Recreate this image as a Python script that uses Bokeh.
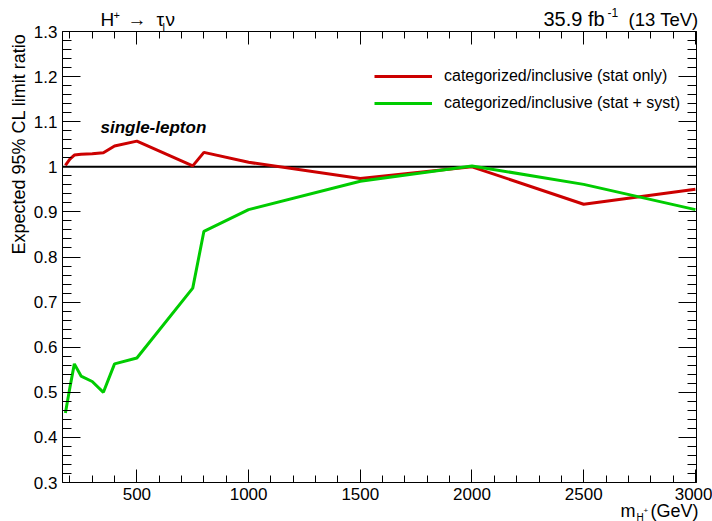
from bokeh.plotting import figure
from bokeh.models import Range1d, FixedTicker, LinearAxis, Label, Legend, LegendItem
from bokeh.embed import file_html
from bokeh.resources import INLINE

# ---- data ----
masses = [180, 200, 220, 250, 300, 350, 400, 500, 750, 800, 1000, 1500, 2000, 2500, 3000]
ratio_stat_only = [1.003, 1.017, 1.026, 1.028, 1.029, 1.031, 1.046, 1.057, 1.002, 1.032,
                   1.010, 0.974, 1.000, 0.917, 0.950]
ratio_stat_syst = [0.454, 0.510, 0.563, 0.536, 0.524, 0.500, 0.563, 0.576, 0.731, 0.857,
                   0.905, 0.968, 1.002, 0.961, 0.905]
series_labels = ["categorized/inclusive (stat only)", "categorized/inclusive (stat + syst)"]
series_colors = ["#CC0000", "#00CC00"]

x_ticks = [500, 1000, 1500, 2000, 2500, 3000]
x_tick_labels = ["500", "1000", "1500", "2000", "2500", "3000"]
x_minor = list(range(200, 3001, 100))
y_ticks = [0.3, 0.4, 0.5, 0.6, 0.7, 0.8, 0.9, 1.0, 1.1, 1.2, 1.3]
y_tick_labels = ["0.3", "0.4", "0.5", "0.6", "0.7", "0.8", "0.9", "1", "1.1", "1.2", "1.3"]
y_minor = [round(0.3 + 0.02 * i, 2) for i in range(51)]
reference_level = 1.0

# axis box limits (data units) and where that box sits on the canvas (pixels)
X_LO, X_HI = 167.0, 3005.0
Y_LO, Y_HI = 0.3, 1.3
W, H = 712, 521
BOX_L, BOX_R, BOX_T, BOX_B = 62, 696, 31, 482

FONT = "Liberation Sans"

# full-canvas frame; ranges chosen so that the axis box lands at BOX_* pixels
xs = (X_HI - X_LO) / (BOX_R - BOX_L)
ys = (Y_HI - Y_LO) / (BOX_B - BOX_T)
x_range = Range1d(X_LO - BOX_L * xs, X_HI + (W - BOX_R) * xs)
y_range = Range1d(Y_LO - (H - BOX_B) * ys, Y_HI + BOX_T * ys)

p = figure(width=W, height=H, output_backend="svg", toolbar_location=None,
           x_range=x_range, y_range=y_range, min_border=0)
p.min_border_left = p.min_border_right = p.min_border_top = p.min_border_bottom = 0
p.xgrid.visible = False
p.ygrid.visible = False
p.outline_line_color = None
p.background_fill_color = "white"
p.border_fill_color = "white"


def style(ax, ticks, minor, labels, tin, tmin, show_labels, loc, bounds):
    ax.fixed_location = loc
    ax.bounds = bounds
    ax.ticker = FixedTicker(ticks=ticks, minor_ticks=minor)
    if show_labels:
        ax.major_label_overrides = {t: l for t, l in zip(ticks, labels)}
        ax.major_label_text_font_size = "17px"
        ax.major_label_standoff = 5
    else:
        ax.major_label_overrides = {t: "" for t in ticks}
        ax.major_label_text_font_size = "1px"
        ax.major_label_standoff = 0
    ax.major_tick_in = tin
    ax.major_tick_out = 0
    ax.minor_tick_in = tmin
    ax.minor_tick_out = 0
    ax.axis_line_color = "black"
    ax.axis_line_width = 1
    ax.major_tick_line_color = "black"
    ax.minor_tick_line_color = "black"
    ax.major_label_text_font = FONT
    ax.major_label_text_color = "black"


style(p.xaxis[0], x_ticks, x_minor, x_tick_labels, 13, 7, True, Y_LO, (X_LO, X_HI))
style(p.yaxis[0], y_ticks, y_minor, y_tick_labels, 18, 9, True, X_LO, (Y_LO, Y_HI))
top_ax = LinearAxis()
right_ax = LinearAxis()
style(top_ax, x_ticks, x_minor, x_tick_labels, 13, 7, False, Y_HI, (X_LO, X_HI))
style(right_ax, y_ticks, y_minor, y_tick_labels, 18, 9, False, X_HI, (Y_LO, Y_HI))
p.add_layout(top_ax, "above")
p.add_layout(right_ax, "right")

# reference line at ratio = 1 across the axis box
p.segment(x0=[X_LO], x1=[X_HI], y0=[reference_level], y1=[reference_level],
          line_color="black", line_width=2)

r1 = p.line(masses, ratio_stat_only, line_color=series_colors[0], line_width=3)
r2 = p.line(masses, ratio_stat_syst, line_color=series_colors[1], line_width=3)

legend = Legend(items=[LegendItem(label=series_labels[0], renderers=[r1]),
                       LegendItem(label=series_labels[1], renderers=[r2])],
                location=(374, H - 113), orientation="vertical",
                glyph_width=58, glyph_height=20, label_height=20, label_standoff=12,
                spacing=7, padding=0, margin=0, border_line_alpha=0,
                background_fill_alpha=0, label_text_font=FONT, label_text_font_size="16px",
                label_text_color="black")
p.add_layout(legend)


def lab(text, cx, cy, size, align="left", style_="normal", vertical=False):
    # cx, cy: intended baseline anchor in canvas pixels; compensate renderer's baseline shift
    shift = 0.35 * size
    if vertical:
        cx -= shift
    else:
        cy -= shift
    p.add_layout(Label(x=cx, y=H - cy, x_units="screen", y_units="screen", text=text,
                       text_font=FONT, text_font_size=f"{size}px", text_align=align,
                       text_baseline="alphabetic", text_font_style=style_,
                       angle=1.5707963 if vertical else 0.0, text_color="black"))


# top-left process label: H+ -> tau_l nu
lab("H", 100, 26, 19)
lab("+", 113, 18, 11)
lab("\u2192", 127, 26, 19)
lab("\u03c4", 156, 26, 19)
lab("l", 162, 30, 11)
lab("\u03bd", 165, 26, 19)

# top-right luminosity label
lab("35.9 fb", 543, 25, 20)
lab("-1", 607, 16, 12)
lab("(13 TeV)", 698, 25, 18.5, align="right")

# x title: m_{H+} (GeV)
lab("m", 620, 517, 18)
lab("H", 636, 520, 10)
lab("+", 643, 513, 8)
lab("(GeV)", 698, 517, 18, align="right")

# y title
lab("Expected 95% CL limit ratio", 25, 33, 18, align="right", vertical=True)

# in-plot annotation
lab("single-lepton", 100, 133, 17, style_="bold italic")

open("out.html", "w").write(file_html(p, INLINE))
